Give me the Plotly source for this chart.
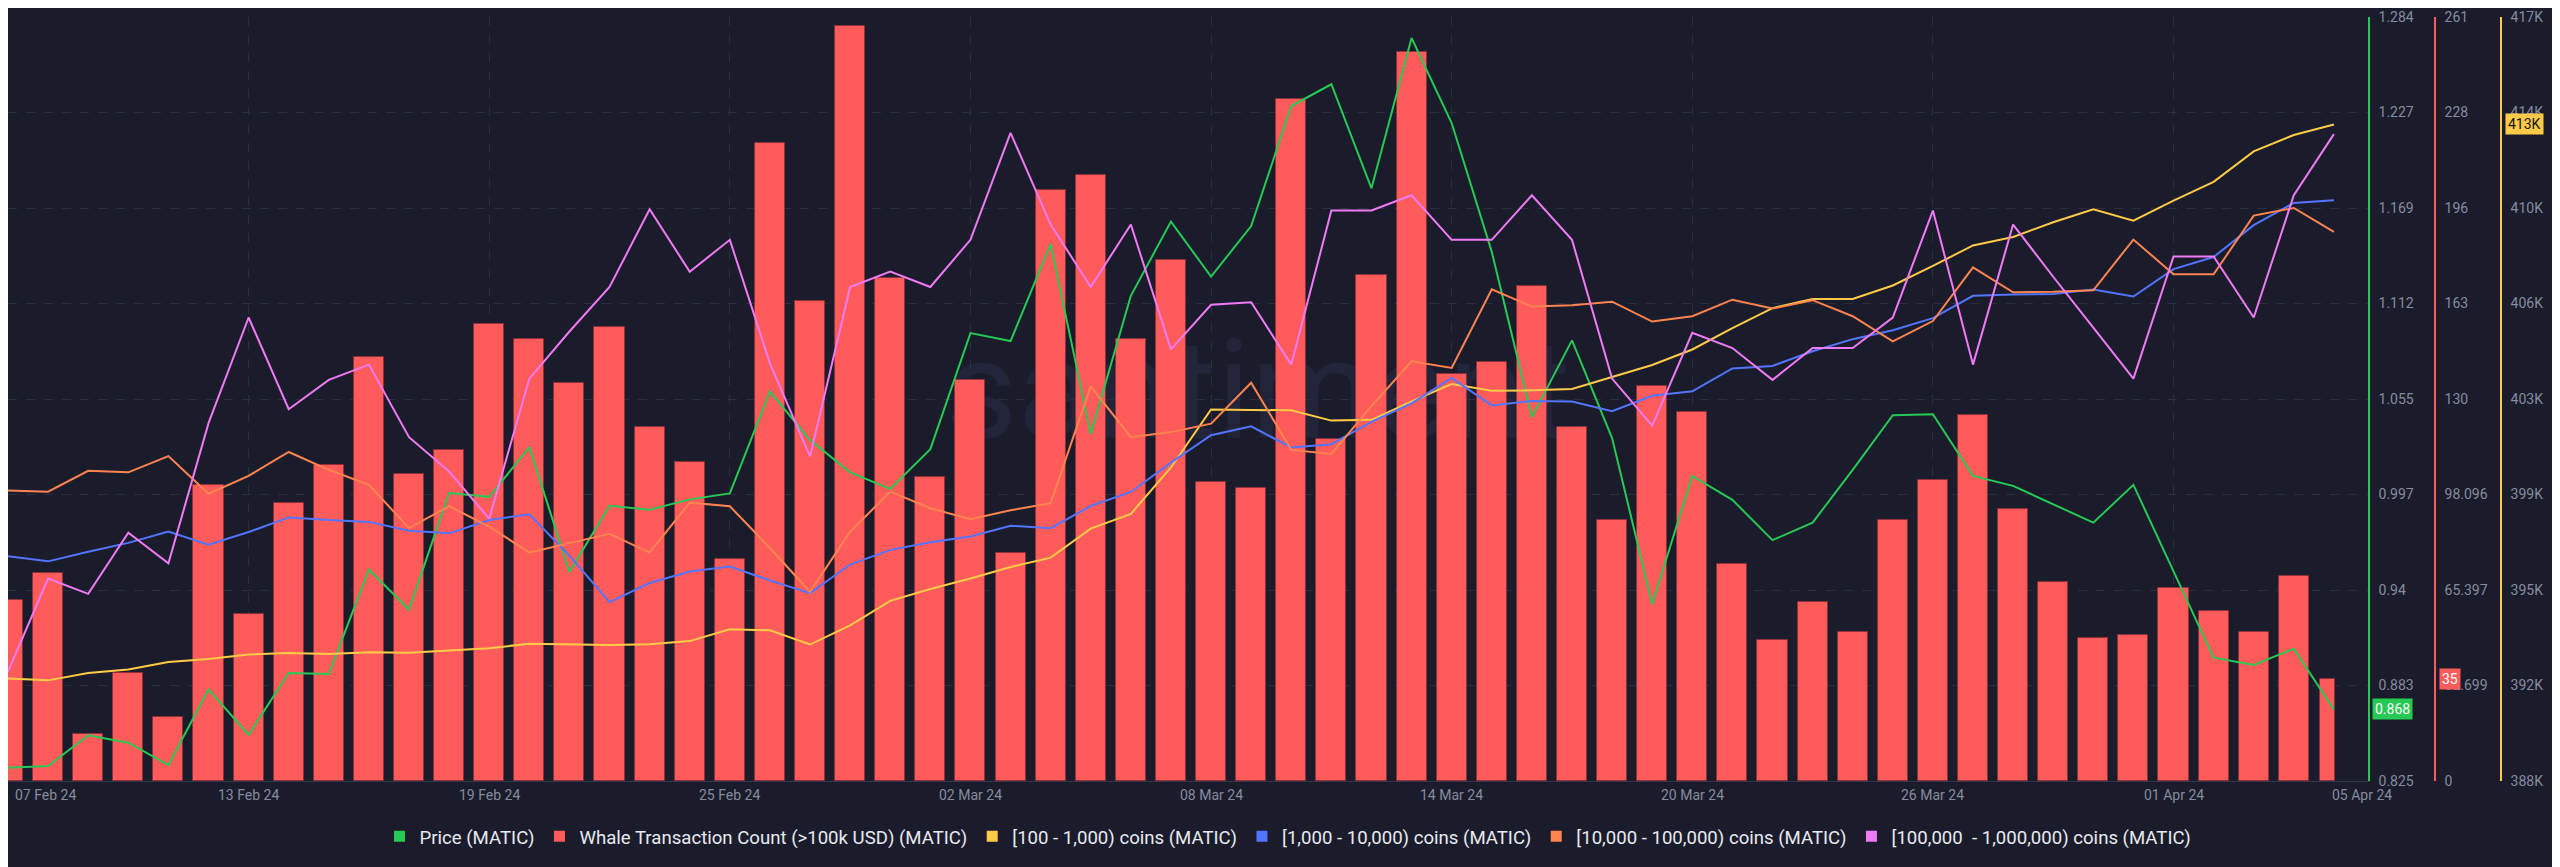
import plotly.graph_objects as go
import pandas as pd

# ---------------- data ----------------
dates = pd.date_range("2024-02-07", "2024-04-05", freq="D")

price = [0.833, 0.834, 0.8525, 0.848, 0.8346, 0.880, 0.8528, 0.8899, 0.8893, 0.952,
         0.928,
         0.998, 0.9957, 1.0256, 0.9506, 0.9904, 0.988, 0.9942, 0.9978, 1.059, 1.0298,
         1.0104, 1.0005, 1.0244, 1.0941, 1.0893, 1.1476, 1.0334, 1.1165, 1.1611, 1.128,
         1.1584, 1.2305, 1.2436, 1.1811, 1.2714, 1.2203, 1.1429, 1.0436, 1.0897, 1.031,
         0.9312, 1.0083, 0.9939, 0.9697, 0.9802, 1.0119, 1.0448, 1.0454, 1.0083, 1.0023,
         0.9913, 0.9802, 1.0029, 0.951, 0.8991, 0.8947, 0.9045, 0.868]

whale_tx = [62, 71, 16, 37, 22, 101, 57, 95, 108, 145,
            105,
            113, 156, 151, 136, 155, 121, 109, 76, 218, 164,
            258, 172, 104, 137, 78, 202, 207, 151, 178, 102,
            100, 233, 117, 173, 249, 139, 143, 169, 121, 89,
            135, 126, 74, 48, 61, 51, 89, 103, 125, 93,
            68, 49, 50, 66, 58, 51, 70, 35]

h_100_1k = [391890, 391820, 392100, 392230, 392520, 392630, 392800, 392860, 392820, 392890,
            392870,
            392950, 393040, 393210, 393180, 393160, 393190, 393310, 393760, 393720, 393180,
            393910, 394840, 395290, 395690, 396120, 396480, 397580, 398140, 399900, 402100,
            402090, 402070, 401680, 401710, 402410, 403070, 402810, 402830, 402880, 403330,
            403790, 404380, 405190, 405950, 406300, 406300, 406810, 407550, 408330, 408650,
            409210, 409700, 409270, 410030, 410740, 411900, 412520, 412920]

h_1k_10k = [143530, 143450, 143600, 143740, 143920, 143710, 143910, 144140, 144100, 144070,
            143930,
            143890, 144100, 144190, 143540, 142810, 143110, 143290, 143370, 143150, 142950,
            143400, 143630, 143750, 143840, 144010, 143970, 144320, 144540, 145000, 145430,
            145570, 145240, 145290, 145640, 145930, 146330, 145900, 145970, 145960, 145810,
            146050, 146120, 146480, 146520, 146750, 146940, 147080, 147270, 147620, 147640,
            147650, 147720, 147610, 148040, 148230, 148730, 149080, 149120]

h_10k_100k = [31141, 31136, 31218, 31212, 31276, 31128, 31198, 31292, 31222, 31163,
              30993,
              31079, 30999, 30897, 30934, 30971, 30897, 31093, 31079, 30915, 30743,
              30979, 31136, 31071, 31028, 31063, 31091, 31550, 31350, 31370, 31403,
              31564, 31300, 31284, 31472, 31648, 31622, 31931, 31863, 31868, 31882,
              31804, 31825, 31890, 31855, 31888, 31825, 31726, 31806, 32017, 31919,
              31921, 31927, 32126, 31990, 31990, 32220, 32250, 32156]

h_100k_1m = [3086, 3159, 3147, 3195, 3171, 3281, 3364, 3292, 3315, 3327,
             3270,
             3243, 3206, 3316, 3353, 3388, 3449, 3400, 3425, 3328, 3255,
             3388, 3400, 3388, 3425, 3509, 3437, 3388, 3437, 3339, 3374,
             3376, 3327, 3448, 3448, 3460, 3425, 3425, 3460, 3425, 3316,
             3279, 3352, 3340, 3315, 3340, 3340, 3364, 3448, 3327, 3437,
             3396, 3356, 3316, 3412, 3412, 3364, 3460, 3508]

price_range = [0.825, 1.284]
price_ticktext = ["0.825", "0.883", "0.94", "0.997", "1.055", "1.112", "1.169", "1.227", "1.284"]
whale_range = [0, 261]
whale_ticktext = ["0", "32.699", "65.397", "98.096", "130", "163", "196", "228", "261"]
holder_range = [388000, 417000]
holder_ticktext = ["388K", "392K", "395K", "399K", "403K", "406K", "410K", "414K", "417K"]
range_1k_10k = [140000, 152000]
range_10k_100k = [30000, 33000]
range_100k_1m = [3000, 3600]

x_tick_dates = ["2024-02-07", "2024-02-13", "2024-02-19", "2024-02-25", "2024-03-02",
                "2024-03-08", "2024-03-14", "2024-03-20", "2024-03-26", "2024-04-01",
                "2024-04-05"]
x_tick_labels = ["07 Feb 24", "13 Feb 24", "19 Feb 24", "25 Feb 24", "02 Mar 24",
                 "08 Mar 24", "14 Mar 24", "20 Mar 24", "26 Mar 24", "01 Apr 24",
                 "05 Apr 24"]

names = ["Price (MATIC)", "Whale Transaction Count (>100k USD) (MATIC)",
         "[100 - 1,000) coins (MATIC)", "[1,000 - 10,000) coins (MATIC)",
         "[10,000 - 100,000) coins (MATIC)", "[100,000\u00a0 - 1,000,000) coins (MATIC)"]
colors = ["#26c953", "#ff5b5b", "#ffcb47", "#5275ff", "#ff8450", "#f07af5"]

# ---------------- style ----------------
BG = "#1b1c2b"
GRID = "#2b2d40"
TICK = "#858b9e"
FONT = "Roboto, Lato, sans-serif"
DAY = 86400000
W, H = 2560, 867
ML, MR, MT, MB = 0, 60, 9, 94
PAPER_W = W - ML - MR
PLOT_R = 2360
XD = PLOT_R / PAPER_W


def ticks(rng, n=9):
    return [rng[0] + k * (rng[1] - rng[0]) / (n - 1) for k in range(n)]


fig = go.Figure()

n = len(dates)
widths = [0.75 * DAY] * n
offsets = [-0.375 * DAY] * n
widths[-1] = 0.37 * DAY
offsets[-1] = -0.35 * DAY

fig.add_trace(go.Bar(x=dates, y=whale_tx, yaxis="y", name=names[1], showlegend=False,
                     width=widths, offset=offsets,
                     marker=dict(color=colors[1], line=dict(color="rgba(150,40,50,0.55)", width=1))))

fig.add_trace(go.Scatter(x=dates, y=h_100k_1m, yaxis="y6", mode="lines", showlegend=False,
                         name=names[5], line=dict(color=colors[5], width=2)))
fig.add_trace(go.Scatter(x=dates, y=h_10k_100k, yaxis="y5", mode="lines", showlegend=False,
                         name=names[4], line=dict(color=colors[4], width=2)))
fig.add_trace(go.Scatter(x=dates, y=h_1k_10k, yaxis="y4", mode="lines", showlegend=False,
                         name=names[3], line=dict(color=colors[3], width=2)))
fig.add_trace(go.Scatter(x=dates, y=h_100_1k, yaxis="y3", mode="lines", showlegend=False,
                         name=names[2], line=dict(color=colors[2], width=2)))
fig.add_trace(go.Scatter(x=dates, y=price, yaxis="y2", mode="lines", showlegend=False,
                         name=names[0], line=dict(color=colors[0], width=2)))

# legend entries (square swatches)
for nm, c in zip(names, colors):
    fig.add_trace(go.Scatter(x=[None], y=[None], mode="markers", name=nm, yaxis="y",
                             marker=dict(symbol="square", size=11, color=c)))

axis_font = dict(family=FONT, size=14, color=TICK)

fig.update_layout(
    width=W, height=H,
    margin=dict(l=ML, r=MR, t=MT, b=MB, pad=0),
    paper_bgcolor=BG, plot_bgcolor=BG,
    font=dict(family=FONT, color=TICK),
    bargap=0,
    showlegend=True,
    legend=dict(orientation="h", x=0.512, xanchor="center", y=-0.073, yanchor="middle",
                font=dict(family=FONT, size=18.6, color="#e8e9f0"),
                bgcolor="rgba(0,0,0,0)", itemwidth=30, tracegroupgap=0),
    xaxis=dict(domain=[0, XD], type="date",
               range=["2024-02-07", "2024-04-05 20:24"],
               tickvals=x_tick_dates[1:-1], showticklabels=False,
               showgrid=True, gridcolor=GRID, griddash="dash", gridwidth=1,
               showline=True, linecolor="#34364a", linewidth=1, zeroline=False, ticks=""),
    yaxis=dict(range=whale_range, tickvals=ticks(whale_range), ticktext=whale_ticktext,
               side="right", anchor="free", position=2427 / PAPER_W,
               showgrid=True, gridcolor=GRID, griddash="dash", gridwidth=1,
               showline=True, linecolor=colors[1], linewidth=1.5, zeroline=False,
               ticks="", tickfont=axis_font, ticklabelstandoff=6),
    yaxis2=dict(range=price_range, tickvals=ticks(price_range), ticktext=price_ticktext,
                overlaying="y", side="right", anchor="x",
                showgrid=False, showline=True, linecolor=colors[0], linewidth=1.5,
                zeroline=False, ticks="", tickfont=axis_font, ticklabelstandoff=6),
    yaxis3=dict(range=holder_range, tickvals=ticks(holder_range), ticktext=holder_ticktext,
                overlaying="y", side="right", anchor="free", position=2493 / PAPER_W,
                showgrid=False, showline=True, linecolor=colors[2], linewidth=1.5,
                zeroline=False, ticks="", tickfont=axis_font, ticklabelstandoff=6),
    yaxis4=dict(range=range_1k_10k, overlaying="y", visible=False),
    yaxis5=dict(range=range_10k_100k, overlaying="y", visible=False),
    yaxis6=dict(range=range_100k_1m, overlaying="y", visible=False),
)

# watermark behind the data
fig.add_shape(type="rect", xref="paper", yref="paper", x0=0.3, x1=0.7, y0=0.40, y1=0.65,
              line=dict(width=0), fillcolor="rgba(0,0,0,0)", layer="below",
              label=dict(text="santiment", textposition="middle center",
                         font=dict(family=FONT, size=140, color="#22243a")))

# x labels
ann = []
for i, (d, t) in enumerate(zip(x_tick_dates, x_tick_labels)):
    anchor = "left" if i in (0, len(x_tick_dates) - 1) else "center"
    xshift = 5 if i == 0 else (-4 if i == len(x_tick_dates) - 1 else 0)
    ann.append(dict(x=d, xref="x", y=-0.0185, yref="paper", text=t, showarrow=False,
                    xanchor=anchor, yanchor="middle", xshift=xshift,
                    font=dict(family=FONT, size=14, color=TICK)))

# last-value badges
ann.append(dict(x=2364 / PAPER_W, xref="paper", y=price[-1], yref="y2",
                text=f"{price[-1]:.3f}", showarrow=False, xanchor="left", yanchor="middle",
                bgcolor=colors[0], borderpad=2, font=dict(family=FONT, size=14, color="#ffffff")))
ann.append(dict(x=2431 / PAPER_W, xref="paper", y=whale_tx[-1], yref="y",
                text=f"{whale_tx[-1]}", showarrow=False, xanchor="left", yanchor="middle",
                bgcolor=colors[1], borderpad=2, font=dict(family=FONT, size=14, color="#ffffff")))
ann.append(dict(x=2497 / PAPER_W, xref="paper", y=h_100_1k[-1], yref="y3",
                text=f"{round(h_100_1k[-1] / 1000)}K", showarrow=False, xanchor="left",
                yanchor="middle", bgcolor=colors[2], borderpad=2,
                font=dict(family=FONT, size=14, color="#111111")))

fig.update_layout(annotations=ann)

fig.write_html("out.html")
